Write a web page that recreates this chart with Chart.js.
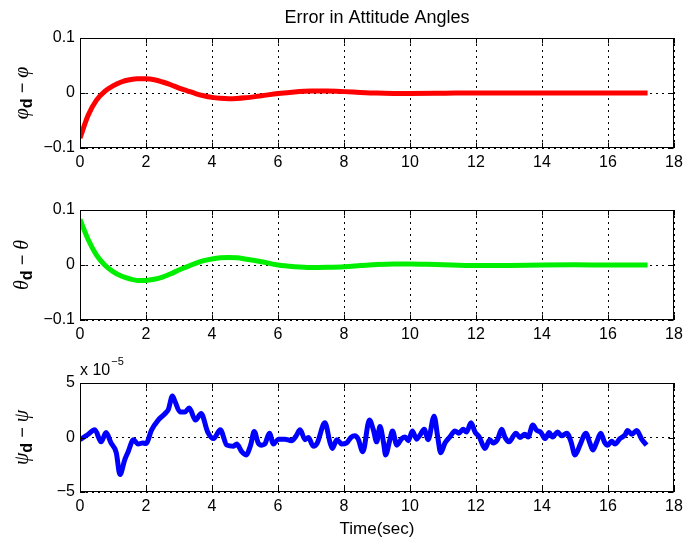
<!DOCTYPE html>
<html><head><meta charset="utf-8">
<script src="https://cdn.jsdelivr.net/npm/chart.js@4.4.0/dist/chart.umd.min.js"></script>
<style>
html,body{margin:0;padding:0;background:#fff;}
#wrap{position:relative;width:689px;height:545px;overflow:hidden;background:#fff;}
canvas{position:absolute;left:0;}
</style></head><body>
<div id="wrap">
<canvas id="c1" width="689" height="180" style="top:0px"></canvas>
<canvas id="c2" width="689" height="180" style="top:175px"></canvas>
<canvas id="c3" width="689" height="205" style="top:340px"></canvas>
</div>
<script>
// ---------------- data ----------------
const titleText = "Error in Attitude Angles";
const xLabel = "Time(sec)";
const xTicks = [0,2,4,6,8,10,12,14,16,18];
const angleTicks = [-0.1,0,0.1];
const psiTicks = [-5,0,5];          // units of 1e-5
const psiExponent = "−5";

// roll error  phi_d - phi
const phiT   = [0,0.25,0.5,0.75,1.0,1.25,1.5,1.75,2.0,2.25,2.5,2.75,3.0,3.25,3.5,3.75,4.0,4.25,4.5,4.75,5.0,5.5,6.0,6.5,7.0,7.5,8.0,8.5,9.0,9.5,10,11,12,13,14,15,16,17.2];
const phiErr = [-0.082,-0.040,-0.013,0.003,0.013,0.020,0.024,0.026,0.0258,0.024,0.020,0.015,0.009,0.004,-0.001,-0.005,-0.008,-0.0097,-0.0105,-0.010,-0.0088,-0.005,-0.001,0.002,0.0035,0.0035,0.0025,0.001,-0.0002,-0.0008,-0.001,-0.0005,0.0002,0.0002,-0.0001,0,0.0001,0];

// pitch error  theta_d - theta
const thetaT   = [0,0.25,0.5,0.75,1.0,1.25,1.5,1.75,2.0,2.25,2.5,2.75,3.0,3.25,3.5,3.75,4.0,4.25,4.5,4.75,5.0,5.5,6.0,6.5,7.0,7.5,8.0,8.5,9.0,9.5,10.0,10.5,11,12,13,14,15,16,17.2];
const thetaErr = [0.083,0.046,0.018,0.0,-0.012,-0.020,-0.025,-0.028,-0.028,-0.026,-0.022,-0.016,-0.009,-0.003,0.003,0.008,0.011,0.013,0.0135,0.013,0.011,0.006,0.0,-0.003,-0.0045,-0.004,-0.003,-0.001,0.001,0.002,0.002,0.0015,0.0005,-0.001,-0.0008,0,0.0004,0,0];

// yaw error  psi_d - psi  (x 1e-5)
const psiT = [0,0.25,0.45,0.64,0.79,0.94,1.1,1.21,1.36,1.46,1.62,1.76,1.9,2.0,2.17,2.37,2.58,2.68,2.8,2.88,
  3.03,3.18,3.31,3.5,3.67,3.87,4.05,4.25,4.45,4.65,4.75,4.9,5.03,5.17,5.28,5.4,5.5,5.6,5.74,5.86,
  6.01,6.21,6.41,6.54,6.67,6.82,6.92,7.07,7.19,7.42,7.58,7.65,7.78,7.93,8.08,8.21,8.33,8.43,8.57,8.77,
  8.89,8.99,9.09,9.2,9.26,9.39,9.47,9.6,9.75,9.85,9.95,10.07,10.2,10.3,10.43,10.55,10.73,10.84,10.93,11.06,
  11.21,11.36,11.48,11.61,11.71,11.85,11.97,12.1,12.27,12.42,12.52,12.65,12.78,12.88,13.0,13.21,13.33,13.48,13.58,13.72,
  13.84,13.96,14.09,14.22,14.32,14.47,14.6,14.75,14.88,15.0,15.15,15.33,15.45,15.54,15.66,15.78,15.89,15.99,16.11,16.21,
  16.36,16.52,16.59,16.72,16.87,17.02,17.17];
const psiErr = [-0.2,0.3,0.7,-0.4,0.45,-0.5,-1.4,-3.4,-2.0,-1.3,-0.2,-0.6,-0.5,-0.55,0.7,1.6,2.2,2.6,3.8,3.3,
  2.35,2.35,2.7,1.6,2.2,0.5,-0.1,0.7,-0.7,-0.8,-0.6,-1.3,-1.6,-0.7,0.55,-0.5,-0.7,-0.6,0.4,-0.6,
  -0.15,-0.15,-0.3,0.1,0.7,-0.2,0,-0.8,-0.5,1.35,-0.5,-1.0,-0.2,-0.6,-0.5,0,0.15,-0.15,-1.3,1.6,
  0.7,-0.4,1.0,-0.5,-1.6,-0.2,0.6,-0.7,-0.1,0.05,-0.3,0.6,-0.15,0.2,0.75,-0.2,1.95,0.05,-1.4,-0.5,
  0.05,0.6,0.4,0.75,0.5,1.35,0.5,0.05,-1.0,-0.2,-0.5,-0.2,0.75,0.0,-0.4,0.4,0,0.3,0.05,1.15,
  0.65,0.5,-0.1,0.45,0.05,0.5,0.15,0.4,-0.4,-1.6,-0.7,0.4,-0.5,-1.15,-0.4,0.4,-0.4,-0.7,-0.35,-0.6,
  -0.1,0.25,0.65,0.3,0.65,-0.15,-0.7];

// ---------------- rendering ----------------
Chart.defaults.font.family = "'Liberation Sans', Arial, Helvetica, sans-serif";
Chart.defaults.color = '#000';

function fmt(v){
  if (Math.abs(v) < 1e-9) return '0';
  const s = String(+Math.abs(v).toFixed(3));
  return (v < 0 ? '−' : '') + s;
}

const framePlugin = {
  id: 'frame',
  afterDraw(chart, args, o) {
    const {ctx, chartArea: a, scales: {x, y}} = chart;
    ctx.save();
    ctx.strokeStyle = '#000';
    ctx.lineWidth = 1;
    const L = Math.round(a.left) + 0.5, R = Math.round(a.right) - 0.5;
    const T = Math.round(a.top) + 0.5, B = Math.round(a.bottom) - 0.5;
    ctx.strokeRect(L, T, R - L, B - T);
    ctx.beginPath();
    x.ticks.forEach(t => {
      const px = Math.round(x.getPixelForValue(t.value)) + 0.5;
      ctx.moveTo(px, B); ctx.lineTo(px, B - 5);
      ctx.moveTo(px, T); ctx.lineTo(px, T + 5);
    });
    y.ticks.forEach(t => {
      const py = Math.round(y.getPixelForValue(t.value)) + 0.5;
      ctx.moveTo(L, py); ctx.lineTo(L + 5, py);
      ctx.moveTo(R, py); ctx.lineTo(R - 5, py);
    });
    ctx.stroke();

    // rotated y label  sym_d − sym
    if (o && o.sym) {
      const cx = o.labelX, cy = (a.top + a.bottom) / 2;
      const parts = [
        {t: o.sym, f: 'italic 20px "Liberation Serif", "DejaVu Serif", serif', dy: 0},
        {t: 'd', f: 'bold 16px "Liberation Sans", Arial, sans-serif', dy: 4},
        {t: ' − ', f: '18px "Liberation Sans", Arial, sans-serif', dy: 0},
        {t: o.sym, f: 'italic 20px "Liberation Serif", "DejaVu Serif", serif', dy: 0}
      ];
      let total = 0;
      parts.forEach(p => { ctx.font = p.f; p.w = ctx.measureText(p.t).width; total += p.w; });
      ctx.translate(cx, cy);
      ctx.rotate(-Math.PI / 2);
      ctx.fillStyle = '#000';
      ctx.textBaseline = 'alphabetic';
      ctx.textAlign = 'left';
      let xx = -total / 2;
      parts.forEach(p => { ctx.font = p.f; ctx.fillText(p.t, xx, 6 + p.dy); xx += p.w; });
      ctx.setTransform(1,0,0,1,0,0);
    }
    // exponent label
    if (o && o.exp) {
      ctx.fillStyle = '#000';
      ctx.textAlign = 'left';
      ctx.textBaseline = 'alphabetic';
      ctx.font = '16px "Liberation Sans", Arial, sans-serif';
      const base = 'x 10';
      ctx.fillText(base, a.left, a.top - 8);
      const w = ctx.measureText(base).width;
      ctx.font = '11px "Liberation Sans", Arial, sans-serif';
      ctx.fillText(o.exp, a.left + w + 1, a.top - 18);
    }
    ctx.restore();
  }
};

function makeChart(id, T, V, color, yTicks, opts) {
  const data = T.map((t, i) => ({x: t, y: V[i]}));
  const ymin = yTicks[0], ymax = yTicks[yTicks.length - 1];
  return new Chart(document.getElementById(id), {
    type: 'line',
    data: {datasets: [{
      data, borderColor: color, borderWidth: 5, pointRadius: 0,
      cubicInterpolationMode: 'monotone', fill: false
    }]},
    options: {
      responsive: false, animation: false, devicePixelRatio: 1,
      layout: {padding: {top: opts.padTop, right: 15, left: 0, bottom: 0}},
      plugins: {
        legend: {display: false}, tooltip: {enabled: false},
        title: opts.title ? {display: true, text: opts.title, fullSize: false,
          font: {size: 18, weight: 'normal'}, color: '#000', padding: {top: 7, bottom: 38 - 7 - 21.6}} : {display: false},
        frame: {sym: opts.sym, labelX: 22, exp: opts.exp}
      },
      scales: {
        x: {
          type: 'linear', min: 0, max: 18,
          afterBuildTicks: s => { s.ticks = xTicks.map(v => ({value: v})); },
          afterFit: s => { s.height = opts.xH; },
          ticks: {padding: 5, font: {size: 16}, color: '#000', callback: v => String(v), maxRotation: 0},
          grid: {color: '#000', lineWidth: 1, drawTicks: false},
          border: {display: false, dash: [2, 4]},
          title: opts.xTitle ? {display: true, text: opts.xTitle, font: {size: 17}, color: '#000',
            padding: {top: 0, bottom: 5}} : {display: false}
        },
        y: {
          type: 'linear', min: ymin, max: ymax,
          afterBuildTicks: s => { s.ticks = yTicks.map(v => ({value: v})); },
          afterFit: s => { s.width = 80; },
          ticks: {padding: 5, font: {size: 16}, color: '#000', callback: v => fmt(v)},
          grid: {color: '#000', lineWidth: 1, drawTicks: false},
          border: {display: false, dash: [2, 4]}
        }
      }
    },
    plugins: [framePlugin]
  });
}

makeChart('c1', phiT, phiErr, '#ff0000', angleTicks, {padTop: 0, title: titleText, sym: 'φ', xH: 32});
makeChart('c2', thetaT, thetaErr, '#00ee00', angleTicks, {padTop: 35, sym: 'θ', xH: 35});
makeChart('c3', psiT, psiErr, '#0000ff', psiTicks, {padTop: 43, sym: 'ψ', xH: 53, xTitle: xLabel, exp: psiExponent});
</script>
</body></html>
